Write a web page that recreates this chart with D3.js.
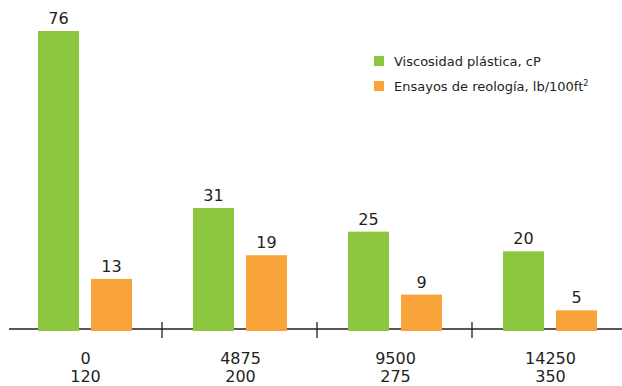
<!DOCTYPE html>
<html>
<head>
<meta charset="utf-8">
<script src="https://cdn.jsdelivr.net/npm/d3@7"></script>
<style>
  body { margin: 0; background: #fff; }
  text { font-family: "DejaVu Sans", sans-serif; fill: #231f20; }
</style>
</head>
<body>
<div class="chart"></div>
<script>
var width = 622
var height = 386

// data
const groups = ["0|120", "4875|200", "9500|275", "14250|350"]
const seriesNames = ["Viscosidad plástica, cP", "Ensayos de reología, lb/100ft"]
const viscosidad = [76, 31, 25, 20]
const reologia = [13, 19, 9, 5]
const colors = ["#8dc63f", "#f9a43a"]

const rows = groups.map((g, i) => ({group: g, values: [viscosidad[i], reologia[i]]}))

var svg = d3.select(".chart")
  .append("svg")
  .attr("width", width)
  .attr("height", height)

const x = d3.scaleBand()
  .domain(groups)
  .range([7, 627])

const xInner = d3.scaleBand()
  .domain([0, 1])
  .range([31, 125])
  .paddingInner(12 / 53)

const y = d3.scaleLinear()
  .domain([0, 76])
  .range([330, 31])

// axis line + group separators
svg.append("line")
  .attr("x1", 9).attr("x2", width)
  .attr("y1", 329).attr("y2", 329)
  .attr("stroke", "#231f20")
  .attr("stroke-width", 1.3)

svg.selectAll(".sep")
  .data(groups.slice(1))
  .enter()
  .append("line")
  .attr("class", "sep")
  .attr("x1", d => x(d)).attr("x2", d => x(d))
  .attr("y1", 322).attr("y2", 338)
  .attr("stroke", "#231f20")
  .attr("stroke-width", 1.3)

const g = svg.selectAll(".grp")
  .data(rows)
  .enter()
  .append("g")
  .attr("class", "grp")
  .attr("transform", d => "translate(" + x(d.group) + ",0)")

g.selectAll("rect")
  .data(d => d.values)
  .enter()
  .append("rect")
  .attr("x", (d, i) => xInner(i))
  .attr("width", xInner.bandwidth())
  .attr("y", d => y(d))
  .attr("height", d => y(0) - y(d) + 1)
  .attr("fill", (d, i) => colors[i])

g.selectAll(".val")
  .data(d => d.values)
  .enter()
  .append("text")
  .attr("class", "val")
  .attr("x", (d, i) => xInner(i) + xInner.bandwidth() / 2)
  .attr("y", d => y(d) - 7)
  .attr("text-anchor", "middle")
  .attr("font-size", 16)
  .text(d => d)

// two-line category labels
const lab = g.append("text")
  .attr("text-anchor", "middle")
  .attr("font-size", 16)
lab.append("tspan")
  .attr("x", x.bandwidth() / 2 + 1)
  .attr("y", 364)
  .text(d => d.group.split("|")[0])
lab.append("tspan")
  .attr("x", x.bandwidth() / 2 + 1)
  .attr("y", 382)
  .text(d => d.group.split("|")[1])

// legend
const leg = svg.selectAll(".leg")
  .data(seriesNames)
  .enter()
  .append("g")
  .attr("class", "leg")
  .attr("transform", (d, i) => "translate(374," + (56 + i * 25) + ")")

leg.append("rect")
  .attr("width", 10).attr("height", 10)
  .attr("fill", (d, i) => colors[i])

const lt = leg.append("text")
  .attr("x", 20)
  .attr("y", 10)
  .attr("font-size", 13)
  .text(d => d)
lt.filter((d, i) => i == 1)
  .append("tspan")
  .attr("dy", -5)
  .attr("font-size", 8)
  .text("2")
</script>
</body>
</html>
